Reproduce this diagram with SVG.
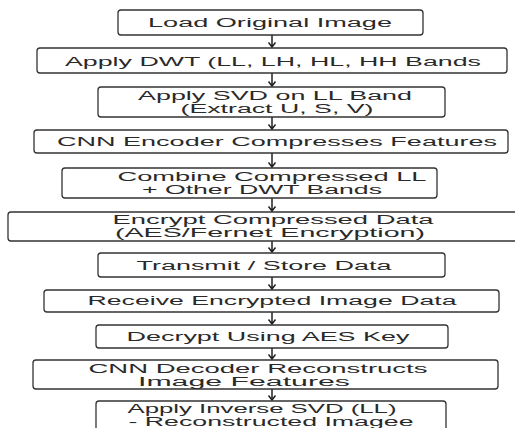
<svg xmlns="http://www.w3.org/2000/svg" width="515" height="428" viewBox="0 0 515 428">
<style>
.box{fill:#fff;stroke:#333;stroke-width:1.3}
.t{font-family:"Liberation Sans",Arial,sans-serif;font-size:12px;fill:#2a2a2a;text-anchor:middle}
.c{stroke:#222;stroke-width:1.5;fill:none;stroke-linejoin:miter}
</style>
<rect width="515" height="428" fill="#fff"/>
<g id="connectors">
<path class="c" d="M272,35 V47 M268.5,42.5 L272,47 L275.5,42.5"/>
<path class="c" d="M272,73 V86 M268.5,81.5 L272,86 L275.5,81.5"/>
<path class="c" d="M272,117 V129 M268.5,124.5 L272,129 L275.5,124.5"/>
<path class="c" d="M272,153 V167 M268.5,162.5 L272,167 L275.5,162.5"/>
<path class="c" d="M272,198 V211 M268.5,206.5 L272,211 L275.5,206.5"/>
<path class="c" d="M272,241 V252 M268.5,247.5 L272,252 L275.5,247.5"/>
<path class="c" d="M272,277 V289 M268.5,284.5 L272,289 L275.5,284.5"/>
<path class="c" d="M272,312 V324 M268.5,319.5 L272,324 L275.5,319.5"/>
<path class="c" d="M272,348 V359 M268.5,354.5 L272,359 L275.5,354.5"/>
<path class="c" d="M272,389 V400 M268.5,395.5 L272,400 L275.5,395.5"/>
</g>
<g id="n1"><rect class="box" x="118" y="10" width="305" height="25" rx="3"/>
<text class="t" x="270" y="27" textLength="244" lengthAdjust="spacingAndGlyphs">Load Original Image</text></g>
<g id="n2"><rect class="box" x="37" y="48" width="470" height="25" rx="3"/>
<text class="t" x="273" y="65.5" textLength="416" lengthAdjust="spacingAndGlyphs">Apply DWT (LL, LH, HL, HH Bands</text></g>
<g id="n3"><rect class="box" x="98" y="87" width="347" height="30" rx="3"/>
<text class="t" x="275" y="100" textLength="274" lengthAdjust="spacingAndGlyphs">Apply SVD on LL Band</text>
<text class="t" x="277" y="113" textLength="193" lengthAdjust="spacingAndGlyphs">(Extract U, S, V)</text></g>
<g id="n4"><rect class="box" x="34" y="130" width="474" height="23" rx="3"/>
<text class="t" x="277" y="146" textLength="440" lengthAdjust="spacingAndGlyphs">CNN Encoder Compresses Features</text></g>
<g id="n5"><rect class="box" x="62" y="168" width="375" height="30" rx="3"/>
<text class="t" x="272" y="181" textLength="309" lengthAdjust="spacingAndGlyphs">Combine Compressed LL</text>
<text class="t" x="262" y="194" textLength="240" lengthAdjust="spacingAndGlyphs">+ Other DWT Bands</text></g>
<g id="n6"><rect class="box" x="8" y="212" width="515" height="29" rx="3"/>
<text class="t" x="273" y="224" textLength="321" lengthAdjust="spacingAndGlyphs">Encrypt Compressed Data</text>
<text class="t" x="270" y="237" textLength="310" lengthAdjust="spacingAndGlyphs">(AES/Fernet Encryption)</text></g>
<g id="n7"><rect class="box" x="98" y="253" width="347" height="24" rx="3"/>
<text class="t" x="264" y="270" textLength="255" lengthAdjust="spacingAndGlyphs">Transmit / Store Data</text></g>
<g id="n8"><rect class="box" x="44" y="290" width="455" height="22" rx="3"/>
<text class="t" x="272" y="305" textLength="369" lengthAdjust="spacingAndGlyphs">Receive Encrypted Image Data</text></g>
<g id="n9"><rect class="box" x="96" y="325" width="352" height="23" rx="3"/>
<text class="t" x="268" y="341" textLength="283" lengthAdjust="spacingAndGlyphs">Decrypt Using AES Key</text></g>
<g id="n10"><rect class="box" x="33" y="360" width="465" height="29" rx="3"/>
<text class="t" x="258" y="373" textLength="339" lengthAdjust="spacingAndGlyphs">CNN Decoder Reconstructs</text>
<text class="t" x="244" y="386" textLength="212" lengthAdjust="spacingAndGlyphs">Image Features</text></g>
<g id="n11"><rect class="box" x="96" y="401" width="350" height="40" rx="3"/>
<text class="t" x="262" y="413" textLength="269" lengthAdjust="spacingAndGlyphs">Apply Inverse SVD (LL)</text>
<text class="t" x="271" y="426" textLength="285" lengthAdjust="spacingAndGlyphs">- Reconstructed Imagee</text></g>
</svg>
